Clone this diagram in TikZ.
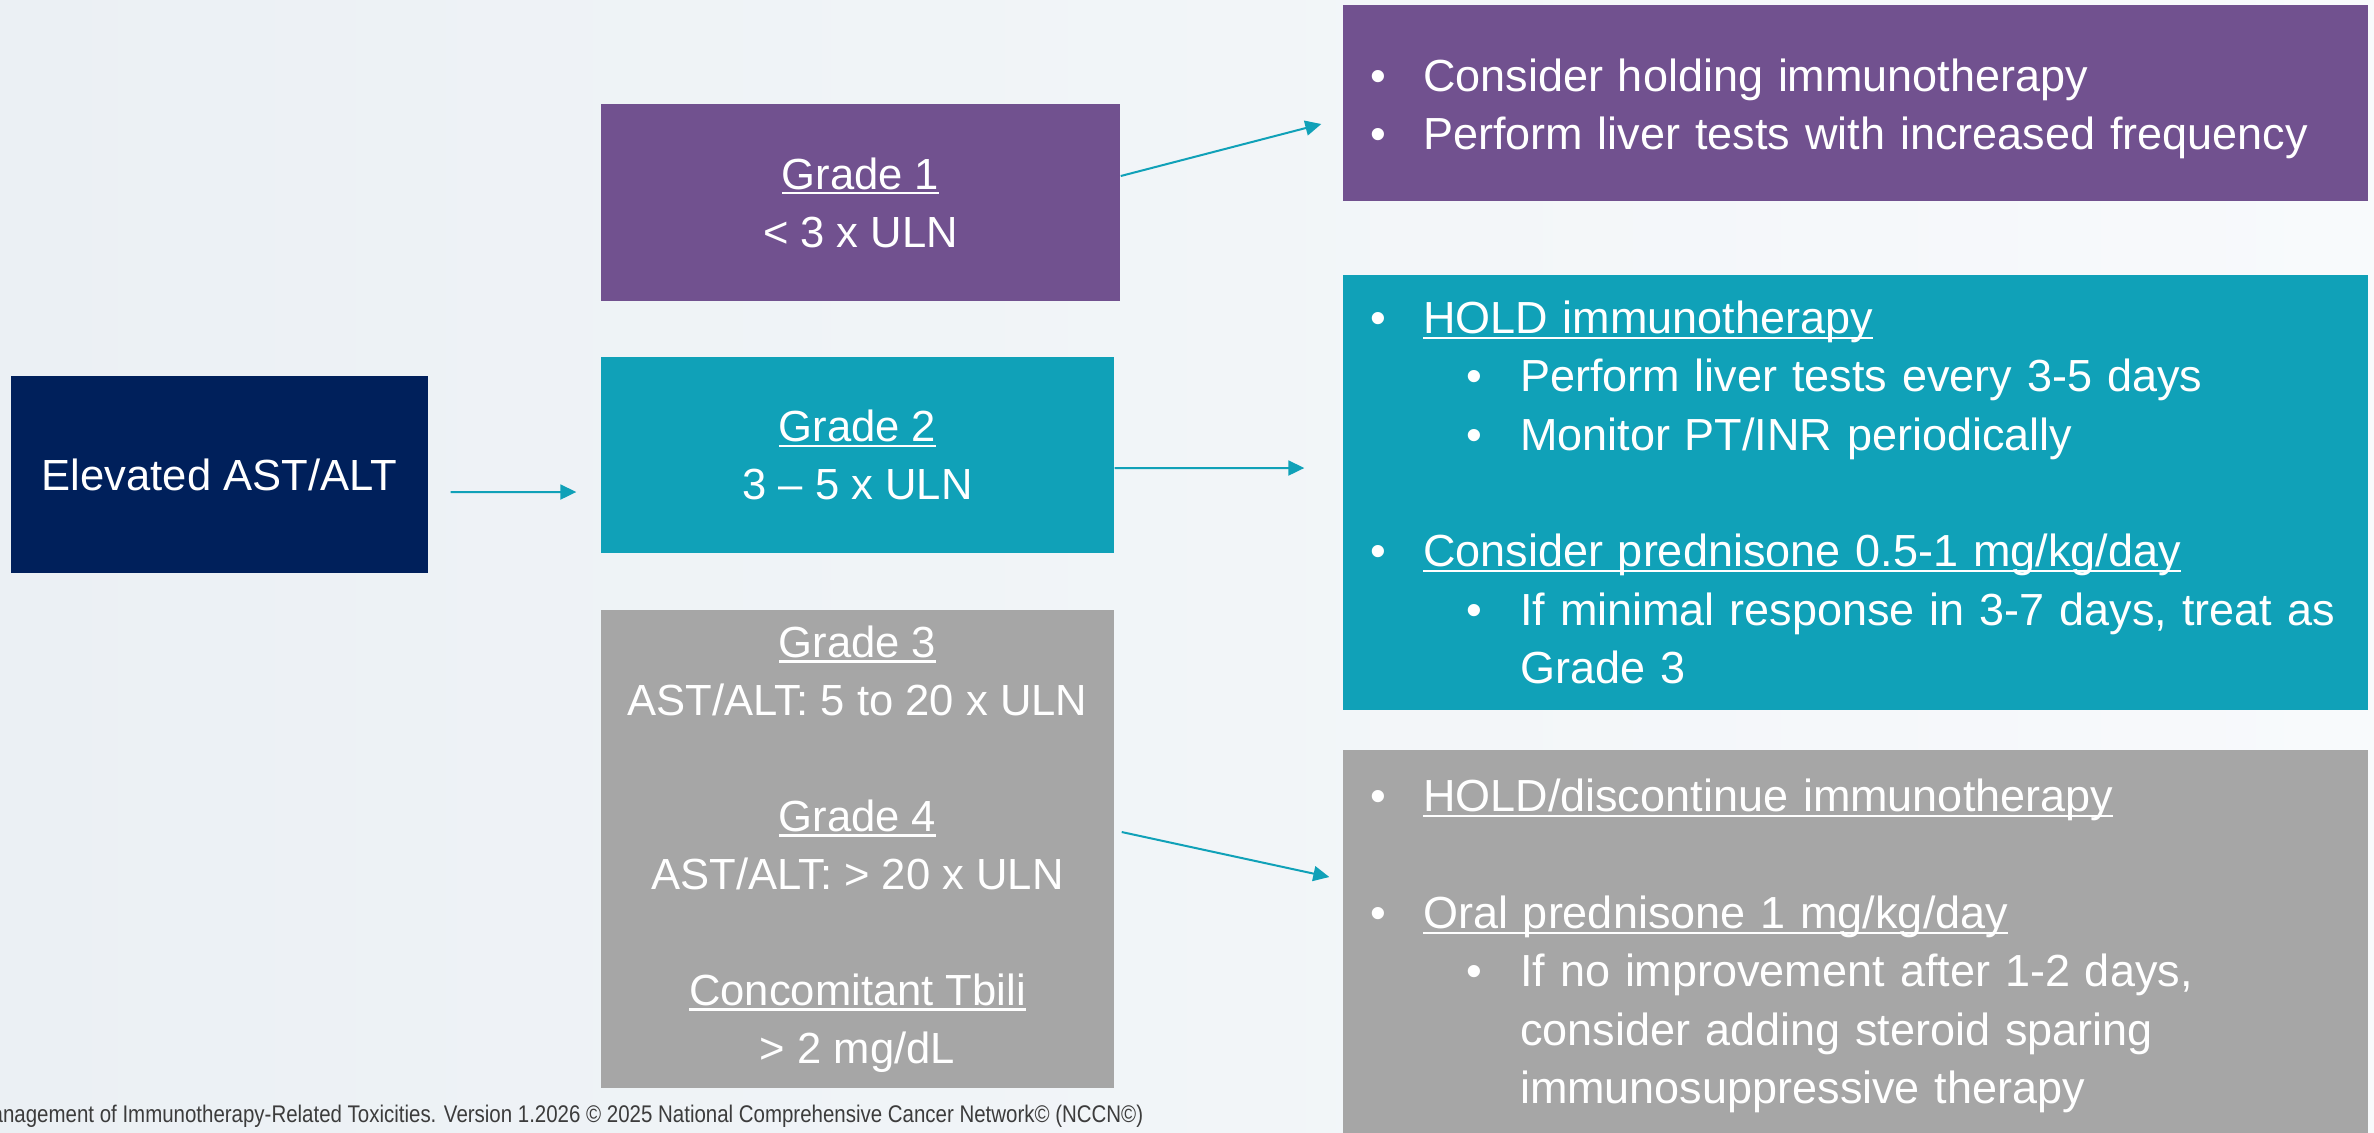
\documentclass[tikz,border=0pt]{standalone}
\usepackage{fontspec}
\setmainfont{Liberation Sans}
\newfontfamily\footfont[FakeStretch=0.85]{Liberation Sans}
\usetikzlibrary{arrows.meta}

\definecolor{navy}{HTML}{00205B}
\definecolor{gradeone}{HTML}{71518F}
\definecolor{gradetwo}{HTML}{10A1B8}
\definecolor{gradethree}{HTML}{A6A6A6}
\definecolor{bgleft}{HTML}{EBF0F4}
\definecolor{bgright}{HTML}{F8FAFC}
\definecolor{footc}{HTML}{3C3C3C}

\newsavebox{\ulnbox}
\newcommand{\uln}[1]{\sbox{\ulnbox}{#1}\rlap{\rule[-1.5pt]{\wd\ulnbox}{0.6pt}}\usebox{\ulnbox}}
\newcommand{\bul}{\makebox[5.3mm][l]{\textbullet}}
\newcommand{\subbul}{\hspace*{9.6mm}\makebox[5.4mm][l]{\textbullet}}
\newcommand{\wrapline}{\hspace*{15mm}}

\begin{document}
\begin{tikzpicture}[x=0.1mm, y=-0.1mm,
  leftbox/.style={fill=#1, text=white, inner sep=0pt, align=center,
    font=\fontsize{12.4}{16.5}\selectfont},
  rightbox/.style={fill=#1, text=white, text width=97.1mm, inner xsep=2.7mm,
    inner ysep=0pt, align=left, font=\fontsize{12.8}{16.6}\selectfont},
  arr/.style={draw=gradetwo, line width=0.57pt, -{Triangle[length=1.6mm,width=1.5mm]}}]

\useasboundingbox (0,0) rectangle (2374,1132);
\clip (0,0) rectangle (2374,1132);
\fill[left color=bgleft, right color=bgright] (0,0) rectangle (2374,1132);

\node[leftbox=navy, minimum width=41.7mm, minimum height=19.7mm] (elev) at (219.5,474.5) {Elevated AST/ALT};

\node[leftbox=gradeone, minimum width=51.9mm, minimum height=19.7mm] (g1) at (860.5,202.5)
  {\uln{Grade 1}\\ < 3 x ULN};
\node[leftbox=gradetwo, minimum width=51.3mm, minimum height=19.6mm] (g2) at (857.5,455)
  {\uln{Grade 2}\\ 3 – 5 x ULN};
\node[leftbox=gradethree, minimum width=51.3mm, minimum height=47.8mm] (g34) at (857.5,849)
  {\uln{Grade 3}\\ AST/ALT: 5 to 20 x ULN\\[16.5pt]
   \uln{Grade 4}\\ AST/ALT: > 20 x ULN\\[16.5pt]
   \uln{Concomitant Tbili}\\ > 2 mg/dL};

\node[rightbox=gradeone, minimum height=19.6mm] (r1) at (1855.5,103)
  {\rule{0pt}{12.6pt}\bul Consider holding immunotherapy\\
   \bul Perform liver tests with increased frequency};
\node[rightbox=gradetwo, minimum height=43.5mm] (r2) at (1855.5,492.5)
  {\bul\uln{HOLD immunotherapy}\\
   \subbul Perform liver tests every 3-5 days\\
   \subbul Monitor PT/INR periodically\\[16.6pt]
   \bul\uln{Consider prednisone 0.5-1 mg/kg/day}\\
   \subbul If minimal response in 3-7 days, treat as\\
   \wrapline Grade 3};
\node[rightbox=gradethree, minimum height=39.2mm] (r3) at (1855.5,946)
  {\bul\uln{HOLD/discontinue immunotherapy}\\[16.6pt]
   \bul\uln{Oral prednisone 1 mg/kg/day}\\
   \subbul If no improvement after 1-2 days,\\
   \wrapline consider adding steroid sparing\\
   \wrapline immunosuppressive therapy};

\node[anchor=east, text=footc, inner sep=0pt, font=\footfont\fontsize{6.85}{8}\selectfont] (src) at (1144,1116)
  {Management of Immunotherapy-Related Toxicities. Version 1.2026 © 2025 National Comprehensive Cancer Network© (NCCN©)};

\draw[arr] ([xshift=2.2mm,yshift=-1.75mm]elev.east) -- ([xshift=-2.4mm,yshift=-3.7mm]g2.west);
\draw[arr] ([yshift=2.65mm]g1.east) -- ([xshift=-2.1mm,yshift=-2.1mm]r1.west);
\draw[arr] ([yshift=-1.3mm]g2.east) -- ([xshift=-3.8mm,yshift=2.45mm]r2.west);
\draw[arr] ([xshift=0.7mm,yshift=1.7mm]g34.east) -- ([xshift=-1.3mm,yshift=6.9mm]r3.west);
\end{tikzpicture}
\end{document}
